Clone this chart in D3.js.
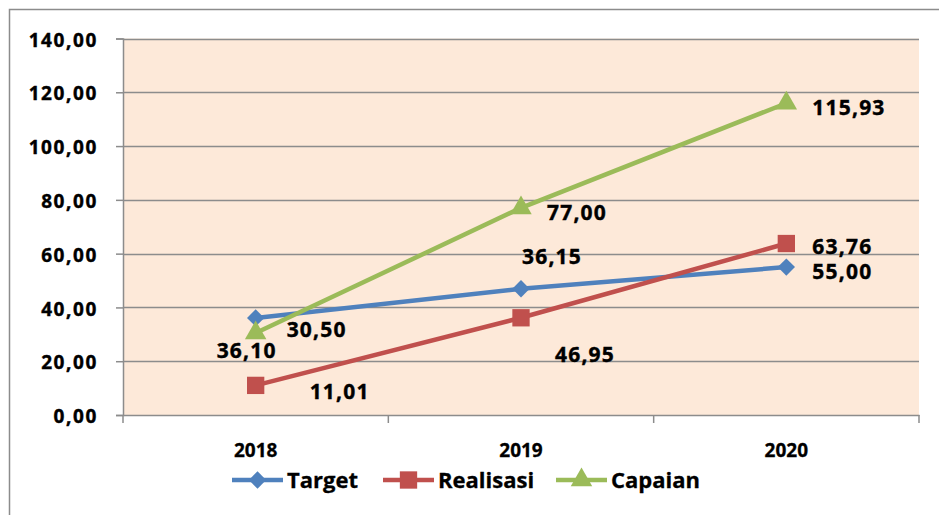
<!DOCTYPE html>
<html>
<head>
    <title>Target Realisasi Capaian</title>
    <script src="https://cdn.jsdelivr.net/npm/d3@7/dist/d3.min.js"></script>
    <style>
        body { margin: 0; background: #fff; }
        svg { display: block; font-family: "Open Sans", sans-serif; font-weight: bold; }
        .tick text { fill: #000; }
    </style>
</head>
<body>
<svg width="939" height="515"></svg>
<script>
    const years = ["2018", "2019", "2020"];
    const target = [36.10, 46.95, 55.00];
    const realisasi = [11.01, 36.15, 63.76];
    const capaian = [30.50, 77.00, 115.93];
    const yTicks = [0, 20, 40, 60, 80, 100, 120, 140];

    // label nudges (px) relative to each point, as the labels were moved by hand
    const labelShift = {
        Target: [[-39, 40], [34, 73], [26, 12]],
        Realisasi: [[54, 14], [1, -54], [26, 10]],
        Capaian: [[31, 4], [26, 12], [26, 12]]
    };

    const series = [
        { name: "Target", values: target, color: "#4F81BD", marker: "diamond" },
        { name: "Realisasi", values: realisasi, color: "#C0504D", marker: "square" },
        { name: "Capaian", values: capaian, color: "#9BBB59", marker: "triangle" }
    ];

    const fmt = v => v.toFixed(2).replace(".", ",");

    const svg = d3.select("svg");
    const plotL = 123, plotR = 919, plotT = 38.5, plotB = 415;

    // outer chart border
    svg.append("rect")
        .attr("x", 9.5).attr("y", 9.5)
        .attr("width", 960).attr("height", 540)
        .attr("fill", "#fff").attr("stroke", "#8c8c8c").attr("stroke-width", 1.5);

    const x = d3.scaleBand().domain(years).range([plotL, plotR]).padding(0);
    const y = d3.scaleLinear().domain([0, 140]).range([plotB, plotT]);
    const cx = d => x(d) + x.bandwidth() / 2;

    svg.append("rect")
        .attr("x", plotL).attr("y", plotT)
        .attr("width", plotR - plotL).attr("height", plotB - plotT)
        .attr("fill", "#FDE9D9");

    // gridlines
    svg.append("g").selectAll("line")
        .data(yTicks.filter(t => t > 0))
        .enter().append("line")
        .attr("x1", plotL).attr("x2", plotR)
        .attr("y1", d => Math.round(y(d)) + 0.5).attr("y2", d => Math.round(y(d)) + 0.5)
        .attr("stroke", "#8c8c8c").attr("stroke-width", 1.5);

    // y axis
    const yAxis = svg.append("g")
        .attr("transform", `translate(${plotL},0)`)
        .call(d3.axisLeft(y).tickValues(yTicks).tickSize(7).tickPadding(18).tickFormat(fmt));
    yAxis.select(".domain").attr("stroke", "#8c8c8c").attr("stroke-width", 1.5);
    yAxis.selectAll(".tick line").attr("stroke", "#8c8c8c").attr("stroke-width", 1.5);
    yAxis.selectAll(".tick text")
        .attr("font-size", 19).attr("font-family", "Open Sans").attr("font-weight", "bold")
        .attr("letter-spacing", 1.6).attr("dy", "0.4em")
        .attr("stroke", "#000").attr("stroke-width", 0.4);

    // x axis
    const xAxis = svg.append("g")
        .attr("transform", `translate(0,${plotB})`)
        .call(d3.axisBottom(x).tickSize(0).tickPadding(29));
    xAxis.select(".domain").attr("stroke", "#8c8c8c").attr("stroke-width", 1.5);
    xAxis.selectAll(".tick text")
        .attr("font-size", 19).attr("font-family", "Open Sans").attr("font-weight", "bold")
        .attr("stroke", "#000").attr("stroke-width", 0.3);
    xAxis.selectAll(".sep")
        .data([0, 1, 2, 3])
        .enter().append("line")
        .attr("class", "sep")
        .attr("x1", i => plotL + i * x.bandwidth()).attr("x2", i => plotL + i * x.bandwidth())
        .attr("y1", 0).attr("y2", 8)
        .attr("stroke", "#8c8c8c").attr("stroke-width", 1.5);

    const markerPath = {
        diamond: d3.symbol().type(d3.symbolSquare).size(150)(),
        square: d3.symbol().type(d3.symbolSquare).size(300)(),
        triangle: d3.symbol().type(d3.symbolTriangle).size(200)()
    };
    const markerRot = { diamond: 45, square: 0, triangle: 0 };

    const line = d3.line().x(d => cx(d.year)).y(d => y(d.value));

    series.forEach(s => {
        const pts = years.map((yr, i) => ({ year: yr, value: s.values[i] }));
        const g = svg.append("g");
        g.append("path")
            .datum(pts)
            .attr("d", line)
            .attr("fill", "none")
            .attr("stroke", s.color)
            .attr("stroke-width", 4.5);
        g.selectAll("path.mk")
            .data(pts)
            .enter().append("path")
            .attr("class", "mk")
            .attr("d", markerPath[s.marker])
            .attr("fill", s.color)
            .attr("transform", d => `translate(${cx(d.year)},${y(d.value)}) rotate(${markerRot[s.marker]})`);
    });

    // data labels
    series.forEach(s => {
        svg.append("g").selectAll("text")
            .data(years.map((yr, i) => ({ year: yr, value: s.values[i], i })))
            .enter().append("text")
            .attr("x", d => cx(d.year) + labelShift[s.name][d.i][0])
            .attr("y", d => y(d.value) + labelShift[s.name][d.i][1])
            .attr("font-size", 21)
            .attr("letter-spacing", 1.2)
            .attr("fill", "#000")
            .attr("stroke", "#000").attr("stroke-width", 0.4)
            .text(d => fmt(d.value));
    });

    // legend
    const legendPos = [232, 383, 556];
    const legend = svg.append("g").attr("transform", "translate(0,480)");
    series.forEach((s, i) => {
        const lg = legend.append("g").attr("transform", `translate(${legendPos[i]},0)`);
        lg.append("line")
            .attr("x1", 0).attr("x2", 51).attr("y1", 0).attr("y2", 0)
            .attr("stroke", s.color).attr("stroke-width", 4.5);
        lg.append("path")
            .attr("d", markerPath[s.marker])
            .attr("fill", s.color)
            .attr("transform", `translate(25.5,0) rotate(${markerRot[s.marker]})`);
        lg.append("text")
            .attr("x", 55).attr("y", 8)
            .attr("font-size", 22)
            .attr("fill", "#000")
            .attr("stroke", "#000").attr("stroke-width", 0.3)
            .text(s.name);
    });
</script>
</body>
</html>
